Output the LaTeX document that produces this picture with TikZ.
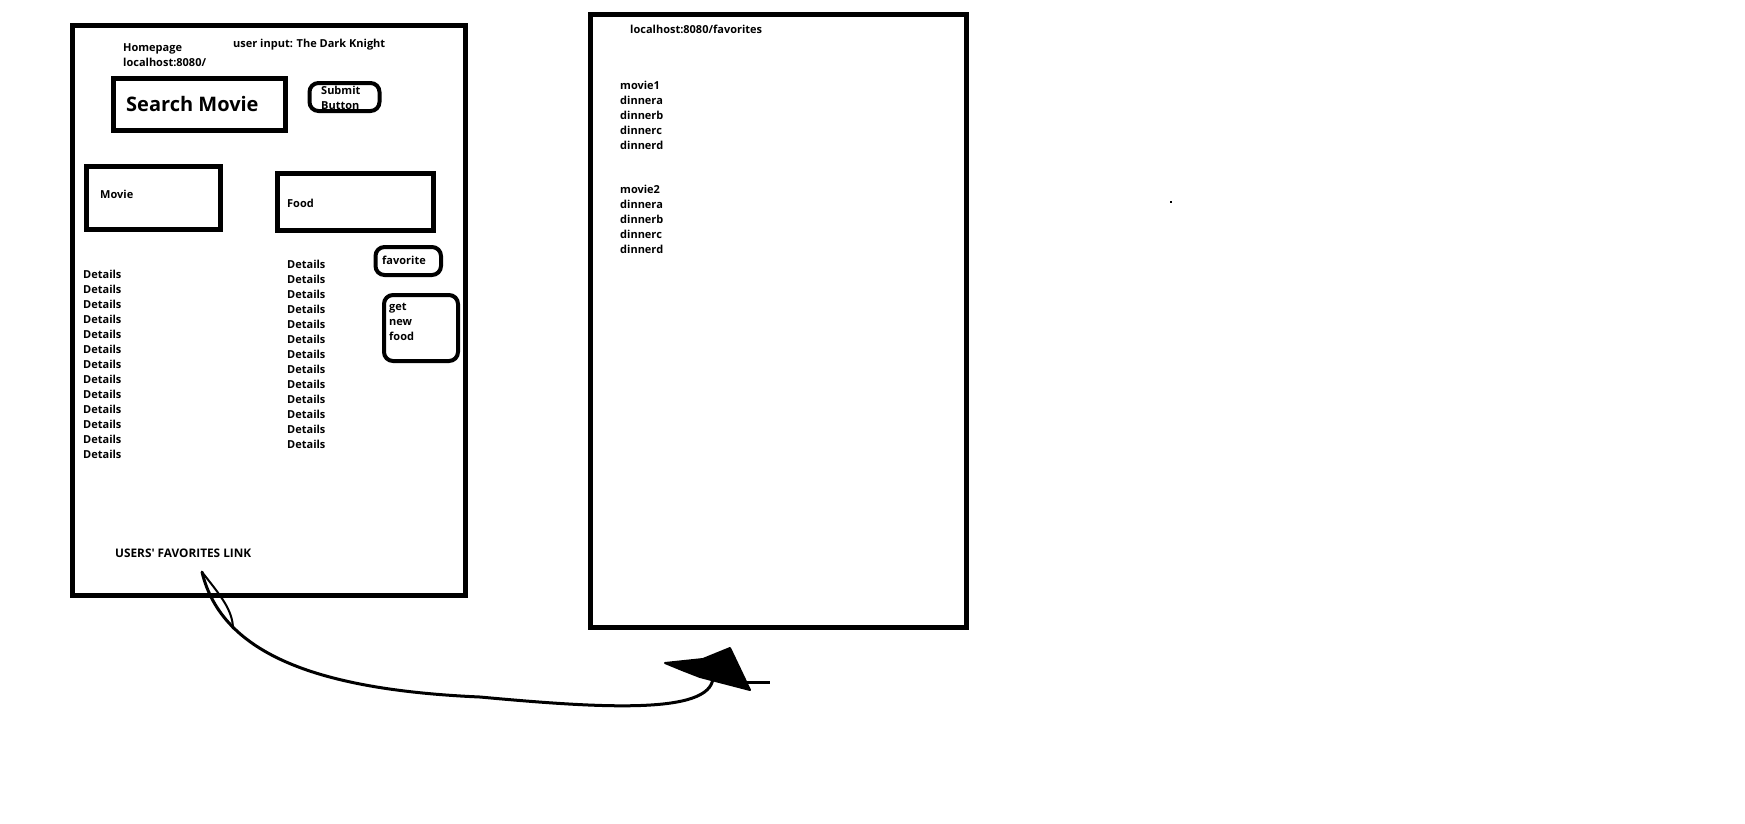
\documentclass[tikz,border=0pt]{standalone}
\usepackage{fontspec}
\setmainfont{Open Sans}
\usetikzlibrary{positioning}
\tikzset{
  panel/.style={draw, line width=5pt, inner sep=0pt},
  button/.style={draw, line width=4pt, rounded corners=9pt, inner sep=0pt},
  txt/.style={anchor=base west, inner sep=0pt, font=\bfseries\fontsize{11}{13}\selectfont},
  bigtxt/.style={txt, font=\bfseries\fontsize{20}{24}\selectfont},
  linkline/.style={line width=3pt, line cap=round, line join=round}
}
% name, style, x1, y1, x2, y2
\newcommand{\panel}[6]{%
 \node[#2, minimum width={(#5-#3)*1pt}, minimum height={(#6-#4)*1pt}] (#1) at ({(#3+#5)/2},{(#4+#6)/2}) {};%
}
\newcommand{\txt}[3]{%
 \node[txt] ({#1}) at ({#2}) {#3};%
}
\begin{document}
\begin{tikzpicture}[x=1pt, y=-1pt]
   \useasboundingbox (0,0) rectangle (1745,823);
   % homepage
   \panel{home}{panel}{72.5}{25}{465.5}{595}
   \panel{search}{panel}{113.5}{78.5}{285.5}{130.5}
   \panel{submit}{button}{309.5}{83}{379.5}{111}
   \panel{movie}{panel}{86.5}{166.5}{220.5}{229}
   \panel{food}{panel}{277.5}{173.5}{433.5}{230.5}
   \panel{fav}{button}{375.5}{247}{441}{275}
   \panel{newfood}{button}{384}{295}{458}{361}
   \txt{hometitle}{123,51.5}{Homepage}
   \txt{homeurl}{123,66.5}{localhost:8080/}
   \txt{input}{233,47.5}{user input: The Dark Knight}
   \node[bigtxt] (searchtxt) at (126,111) {Search Movie};
   \txt{submit1}{321,94.5}{Submit}
   \txt{submit2}{321,109.5}{Button}
   \txt{movietxt}{100,198.5}{Movie}
   \txt{foodtxt}{287,207.5}{Food}
   \txt{favtxt}{382,264.5}{favorite}
   \txt{get}{389,310.5}{get}
   \txt{new}{389,325.5}{new}
   \txt{nfood}{389,340.5}{food}
   \foreach \i in {0,...,12} {
     \node[txt] (ld\i) at (83,{278.5+15*\i}) {Details};
     \node[txt] (rd\i) at (287,{268.5+15*\i}) {Details};
   }
   \node[txt, font=\bfseries\fontsize{11.8}{13}\selectfont] (link) at (115,557.5) {USERS\textquotesingle{} FAVORITES LINK};
   % favorites page
   \panel{favpage}{panel}{590.5}{14}{966}{627.5}
   \txt{favurl}{630,33.5}{localhost:8080/favorites}
   \foreach \m/\y in {1/89.5, 2/193.5} {
     \node[txt] (m\m) at (620,\y) {movie\m};
     \foreach \d [count=\k] in {a,b,c,d}
       \node[txt] (m\m\d) at (620,{\y+15*\k}) {dinner\d};
   }
   \fill (1169.5,201) rectangle (1171.5,203);
   % link to favorites
   \coordinate (linkstart) at (202,572);
   \coordinate (linkmid) at (480,697);
   \coordinate (linkend) at (713,678);
   \draw[linkline] (linkstart) .. controls (222,655) and (320,690) .. (linkmid)
     .. controls (600,708) and (710,715) .. (linkend);
   \draw[line width=2pt] (linkstart) .. controls (220,595) and (233,610) .. (233,629);
   \fill[line join=round, draw, line width=2pt] (665,663) -- (703,659) -- (730,648) -- (750,690) -- (700,677) -- (682,670) -- cycle;
   \draw[line width=3pt] (742,682) -- (770,682);
\end{tikzpicture}
\end{document}
